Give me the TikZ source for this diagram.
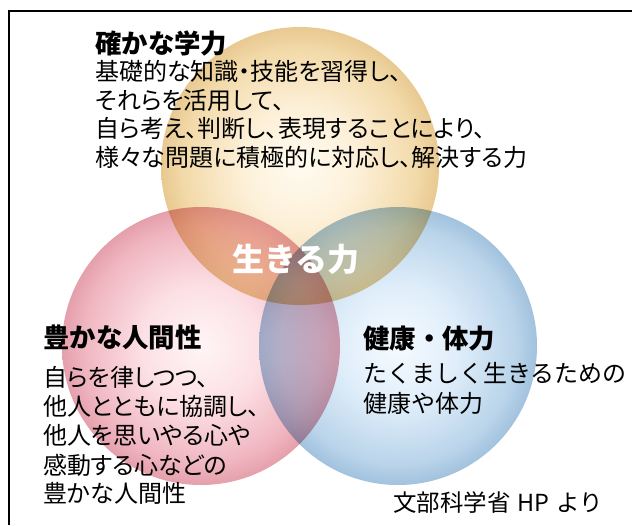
\documentclass[tikz,border=0pt]{standalone}
\usepackage{fontspec}
\newfontfamily\jp{Noto Sans CJK JP}
\newfontfamily\jpp{Noto Sans CJK JP}[RawFeature=+palt]
\definecolor{yc0}{HTML}{FFFBF0}
\definecolor{yc1}{HTML}{FDF0D8}
\definecolor{yc2}{HTML}{F2D9A8}
\definecolor{yc3}{HTML}{DDB878}
\definecolor{yc4}{HTML}{C49450}
\definecolor{rc0}{HTML}{FFF5F6}
\definecolor{rc1}{HTML}{FCE0E5}
\definecolor{rc2}{HTML}{F0B6C0}
\definecolor{rc3}{HTML}{D88896}
\definecolor{rc4}{HTML}{B85C6C}
\definecolor{bc0}{HTML}{F5FAFF}
\definecolor{bc1}{HTML}{E0EEFA}
\definecolor{bc2}{HTML}{BAD4EA}
\definecolor{bc3}{HTML}{88AED0}
\definecolor{bc4}{HTML}{5C88B2}
\pgfdeclareradialshading{yelshade}{\pgfpoint{0bp}{0bp}}{color(0bp)=(yc0); color(10.6bp)=(yc1); color(21.2bp)=(yc2); color(29bp)=(yc3); color(35.36bp)=(yc4); color(50bp)=(yc4)}
\pgfdeclareradialshading{redshade}{\pgfpoint{0bp}{0bp}}{color(0bp)=(rc0); color(10.6bp)=(rc1); color(21.2bp)=(rc2); color(29bp)=(rc3); color(35.36bp)=(rc4); color(50bp)=(rc4)}
\pgfdeclareradialshading{blushade}{\pgfpoint{0bp}{0bp}}{color(0bp)=(bc0); color(10.6bp)=(bc1); color(21.2bp)=(bc2); color(29bp)=(bc3); color(35.36bp)=(bc4); color(50bp)=(bc4)}
\tikzset{
  ring/.style={circle, inner sep=0pt, outer sep=0pt, minimum size=208.5pt},
  frameline/.style={line width=1.5pt, black},
  ttl/.style={anchor=base west, inner sep=0pt, font=\jp\bfseries\fontsize{19.8pt}{20pt}\selectfont},
  bodyp/.style={anchor=base west, inner sep=0pt, font=\jpp\fontsize{18pt}{18pt}\selectfont},
  bodym/.style={anchor=base west, inner sep=0pt, font=\jp\fontsize{18pt}{18pt}\selectfont},
  core/.style={anchor=base, inner sep=0pt, text=white, font=\jp\bfseries\fontsize{24pt}{24pt}\selectfont},
  credit/.style={anchor=base west, inner sep=0pt, font=\jp\fontsize{17.6pt}{18pt}\selectfont}
}
\begin{document}
\begin{tikzpicture}[x=0.75pt,y=-0.75pt]
\useasboundingbox (0,0) rectangle (632,525);
\fill[white] (0,0) rectangle (632,525);
\begin{scope}[blend mode=multiply]
\node[ring, shading=yelshade] (yellow) at (300,166) {};
\node[ring, shading=redshade] (red) at (201,346) {};
\node[ring, shading=blushade] (blue) at (398,346) {};
\end{scope}
\coordinate (tl) at (9,11);
\coordinate (tr) at (632,11);
\coordinate (bl) at (9,525);
\draw[frameline] (tr) -- (tl) -- (bl);
% top block
\node[ttl] (t0) at (95,53) {確かな学力};
\node[bodyp] (t1) at (95,80) {基礎的な知識・技能を習得し、};
\node[bodyp] (t2) at (95,109) {それらを活用して、};
\node[bodyp] (t3) at (95,137.6) {自ら考え、判断し、表現することにより、};
\node[bodyp] (t4) at (95,166.6) {様々な問題に積極的に対応し、解決する力};
% left block
\node[ttl] (r0) at (43,347.5) {豊かな人間性};
\node[bodyp] (r1) at (43,386.6) {自らを律しつつ、};
\node[bodyp] (r2) at (43,415.1) {他人とともに協調し、};
\node[bodyp] (r3) at (43,444.6) {他人を思いやる心や};
\node[bodyp] (r4) at (43,474.1) {感動する心などの};
\node[bodyp] (r5) at (43,502.6) {豊かな人間性};
% right block
\node[ttl] (b0) at (363,348.5) {健康・体力};
\node[bodym] (b1) at (363,382.6) {たくましく生きるための};
\node[bodym] (b2) at (363,412.6) {健康や体力};
% centre
\node[core] (ikiru) at (296,271.5) {生きる力};
\node[credit] (src) at (393,511.5) {文部科学省\hspace{0.3em}HP\hspace{0.3em}より};
\end{tikzpicture}
\end{document}
